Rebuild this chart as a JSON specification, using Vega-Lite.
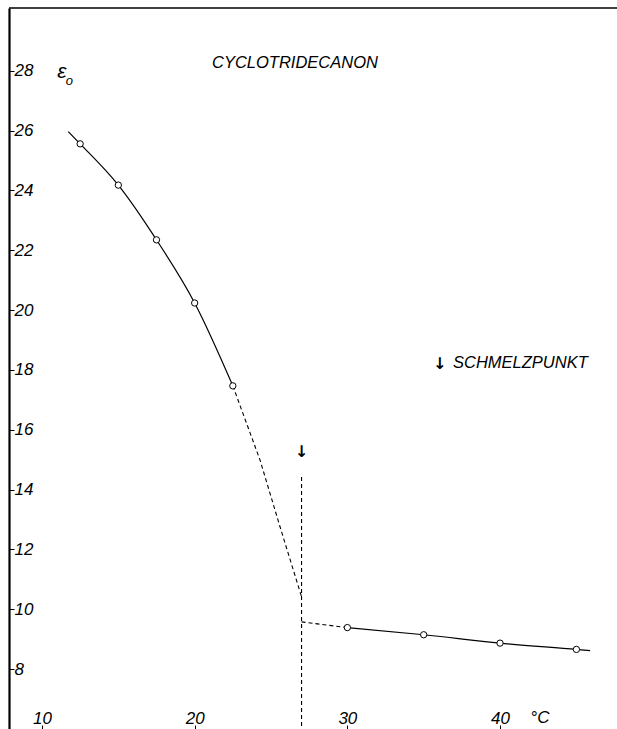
{
  "$schema": "https://vega.github.io/schema/vega-lite/v6.json",
  "width": 608,
  "height": 721,
  "autosize": {"type": "none"},
  "padding": {"left": 9, "top": 8, "right": 0, "bottom": 0},
  "background": "white",
  "config": {"view": {"stroke": null}, "font": "Liberation Sans"},
  "datasets": {
    "curves": [
      {"seg": "a", "style": "solid", "i": 0, "t": 11.72, "e": 25.97},
      {"seg": "a", "style": "solid", "i": 1, "t": 12.5, "e": 25.56},
      {"seg": "a", "style": "solid", "i": 2, "t": 15.0, "e": 24.18},
      {"seg": "a", "style": "solid", "i": 3, "t": 17.5, "e": 22.35},
      {"seg": "a", "style": "solid", "i": 4, "t": 20.0, "e": 20.24},
      {"seg": "a", "style": "solid", "i": 5, "t": 22.5, "e": 17.47},
      {"seg": "b", "style": "dashed", "i": 0, "t": 22.5, "e": 17.47},
      {"seg": "b", "style": "dashed", "i": 1, "t": 24.28, "e": 14.99},
      {"seg": "b", "style": "dashed", "i": 2, "t": 25.59, "e": 12.76},
      {"seg": "b", "style": "dashed", "i": 3, "t": 27.0, "e": 10.42},
      {"seg": "c", "style": "dashed", "i": 0, "t": 27.0, "e": 14.42},
      {"seg": "c", "style": "dashed", "i": 1, "t": 27.0, "e": 6.0},
      {"seg": "d", "style": "dashed", "i": 0, "t": 27.0, "e": 9.58},
      {"seg": "d", "style": "dashed", "i": 1, "t": 30.0, "e": 9.39},
      {"seg": "e", "style": "solid", "i": 0, "t": 30.0, "e": 9.39},
      {"seg": "e", "style": "solid", "i": 1, "t": 35.0, "e": 9.15},
      {"seg": "e", "style": "solid", "i": 2, "t": 40.0, "e": 8.87},
      {"seg": "e", "style": "solid", "i": 3, "t": 45.0, "e": 8.66},
      {"seg": "e", "style": "solid", "i": 4, "t": 45.9, "e": 8.62}
    ],
    "points": [
      {"t": 12.5, "e": 25.56},
      {"t": 15.0, "e": 24.18},
      {"t": 17.5, "e": 22.35},
      {"t": 20.0, "e": 20.24},
      {"t": 22.5, "e": 17.47},
      {"t": 30.0, "e": 9.39},
      {"t": 35.0, "e": 9.15},
      {"t": 40.0, "e": 8.87},
      {"t": 45.0, "e": 8.66}
    ],
    "texts": [
      {"t": 26.57, "e": 28.27, "label": "CYCLOTRIDECANON", "size": 16.5},
      {"t": 11.31, "e": 27.95, "label": "ε", "size": 21},
      {"t": 11.8, "e": 27.66, "label": "o", "size": 13},
      {"t": 42.61, "e": 6.37, "label": "°C", "size": 17}
    ],
    "lefttexts": [
      {"t": 36.92, "e": 18.23, "label": "SCHMELZPUNKT", "size": 16.5}
    ],
    "arrows": [
      {"t": 27.0, "e": 15.26, "label": "↓"},
      {"t": 36.05, "e": 18.2, "label": "↓"}
    ],
    "frame": [
      {"t": 7.84, "t2": 47.66, "e": 30.1}
    ]
  },
  "encoding": {
    "x": {
      "field": "t", "type": "quantitative",
      "scale": {"domain": [7.84, 47.66], "nice": false, "zero": false},
      "axis": {
        "orient": "bottom", "values": [10, 20, 30, 40], "title": null, "grid": false,
        "domain": false, "ticks": true, "tickSize": -4, "tickColor": "black", "tickWidth": 1,
        "labelPadding": -7, "labelBaseline": "middle", "labelAlign": "center",
        "labelFont": "Liberation Sans", "labelFontStyle": "italic", "labelFontSize": 17,
        "labelColor": "black", "labelOverlap": false, "labelFlush": false
      }
    },
    "y": {
      "field": "e", "type": "quantitative",
      "scale": {"domain": [6, 30.1], "nice": false, "zero": false},
      "axis": {
        "orient": "left", "values": [8, 10, 12, 14, 16, 18, 20, 22, 24, 26, 28], "title": null, "grid": false,
        "domain": true, "domainColor": "black", "domainWidth": 2.2,
        "ticks": true, "tickSize": -5, "tickColor": "black", "tickWidth": 1,
        "labelPadding": 0, "labelAlign": "left", "labelBaseline": "middle",
        "labelFont": "Liberation Sans", "labelFontStyle": "italic", "labelFontSize": 17,
        "labelColor": "black", "labelOverlap": false, "labelFlush": false
      }
    }
  },
  "layer": [
    {
      "data": {"name": "curves"},
      "transform": [{"filter": "datum.style === 'solid'"}],
      "mark": {"type": "line", "interpolate": "monotone", "stroke": "black", "strokeWidth": 1.2},
      "encoding": {
        "detail": {"field": "seg"},
        "order": {"field": "i"}
      }
    },
    {
      "data": {"name": "curves"},
      "transform": [{"filter": "datum.style === 'dashed'"}],
      "mark": {"type": "line", "interpolate": "linear", "stroke": "black", "strokeWidth": 1.1, "strokeDash": [4, 3]},
      "encoding": {
        "detail": {"field": "seg"},
        "order": {"field": "i"}
      }
    },
    {
      "data": {"name": "frame"},
      "mark": {"type": "rule", "stroke": "black", "strokeWidth": 1.5},
      "encoding": {
        "x2": {"field": "t2"}
      }
    },
    {
      "data": {"name": "points"},
      "mark": {"type": "circle", "fill": "white", "stroke": "black", "strokeWidth": 1, "size": 40, "opacity": 1},
      "encoding": {}
    },
    {
      "data": {"name": "texts"},
      "mark": {"type": "text", "font": "Liberation Sans", "fontStyle": "italic", "color": "black", "baseline": "middle", "align": "center"},
      "encoding": {
        "text": {"field": "label"},
        "size": {"field": "size", "type": "quantitative", "scale": null}
      }
    },
    {
      "data": {"name": "lefttexts"},
      "mark": {"type": "text", "font": "Liberation Sans", "fontStyle": "italic", "color": "black", "baseline": "middle", "align": "left"},
      "encoding": {
        "text": {"field": "label"},
        "size": {"field": "size", "type": "quantitative", "scale": null}
      }
    },
    {
      "data": {"name": "arrows"},
      "mark": {"type": "text", "font": "DejaVu Sans", "fontWeight": "bold", "fontSize": 16, "color": "black", "baseline": "middle", "align": "center"},
      "encoding": {
        "text": {"field": "label"}
      }
    }
  ]
}
